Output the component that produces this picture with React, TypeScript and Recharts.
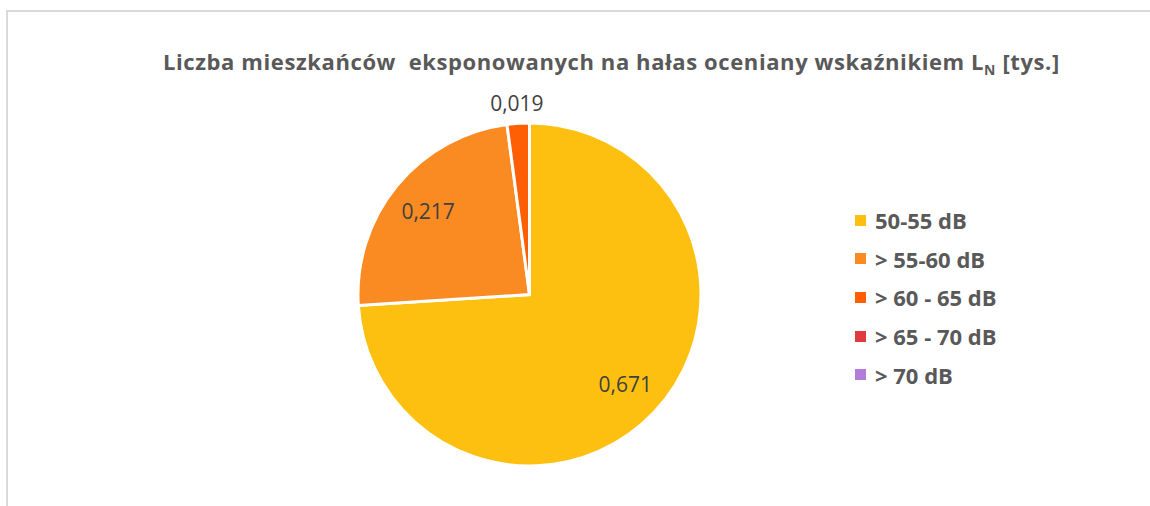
import React from 'react';
import { PieChart, Pie, Cell, Legend } from 'recharts';

// kategorie i wartości [tys.]
const categories = ['50-55 dB', '> 55-60 dB', '> 60 - 65 dB', '> 65 - 70 dB', '> 70 dB'];
const values = [0.671, 0.217, 0.019, 0, 0];
const colors = ['#FEC010', '#FA8B22', '#FE5F05', '#DF3A3D', '#B27DD9'];

const data = categories.map((name, i) => ({ name, value: values[i] }));

const RAD = Math.PI / 180;

const renderLabel = (props: any) => {
  const { cx, cy, midAngle, outerRadius, value, percent } = props;
  if (!value) return null;
  // małe wycinki etykietowane na zewnątrz
  const r = percent < 0.05 ? outerRadius * 1.12 : outerRadius * 0.765;
  const x = cx + r * Math.cos(-midAngle * RAD);
  const y = cy + r * Math.sin(-midAngle * RAD);
  return (
    <text x={x} y={y} fill="#404040" fontSize={21} fontFamily="'Open Sans', sans-serif"
      textAnchor="middle" dominantBaseline="central">
      {value.toFixed(3).replace('.', ',')}
    </text>
  );
};

const renderLegend = (props: any) => {
  const { payload } = props;
  return (
    <ul style={{ listStyle: 'none', margin: 0, padding: 0 }}>
      {payload.map((entry: any) => (
        <li key={entry.value} style={{ display: 'flex', alignItems: 'center', height: 38.6 }}>
          <span style={{ width: 11, height: 11, background: entry.color, display: 'inline-block', marginRight: 9 }} />
          <span style={{ color: '#595959', fontSize: 22, fontWeight: 700, fontFamily: "'Open Sans', sans-serif", whiteSpace: 'pre' }}>
            {entry.value}
          </span>
        </li>
      ))}
    </ul>
  );
};

export default function App() {
  return (
    <div style={{ position: 'absolute', left: 0, top: 0, width: 1150, height: 506, background: '#fff', overflow: 'hidden' }}>
      <div style={{ position: 'absolute', left: 6, top: 10, width: 1200, height: 600, border: '2px solid #d9d9d9', boxSizing: 'border-box' }} />
      <div style={{
        position: 'absolute', left: 163, top: 46, whiteSpace: 'pre',
        color: '#595959', fontSize: 22, fontWeight: 700, letterSpacing: 0.6, fontFamily: "'Open Sans', sans-serif",
      }}>
        Liczba mieszkańców  eksponowanych na hałas oceniany wskaźnikiem L<sub style={{ fontSize: 14 }}>N</sub> [tys.]
      </div>
      <div style={{ position: 'absolute', left: 0, top: 0 }}>
        <PieChart width={1150} height={506} margin={{ top: 0, right: 0, bottom: 0, left: 0 }}>
          <Pie
            data={data}
            dataKey="value"
            nameKey="name"
            cx={529.5}
            cy={294.5}
            outerRadius={171.5}
            startAngle={90}
            endAngle={-270}
            stroke="#ffffff"
            strokeWidth={3}
            label={renderLabel}
            labelLine={false}
            isAnimationActive={false}
          >
            {data.map((d, i) => (
              <Cell key={d.name} fill={colors[i]} />
            ))}
          </Pie>
          <Legend
            layout="vertical"
            align="right"
            verticalAlign="top"
            content={renderLegend}
            wrapperStyle={{ left: 855, top: 201, width: 250 }}
          />
        </PieChart>
      </div>
    </div>
  );
}
